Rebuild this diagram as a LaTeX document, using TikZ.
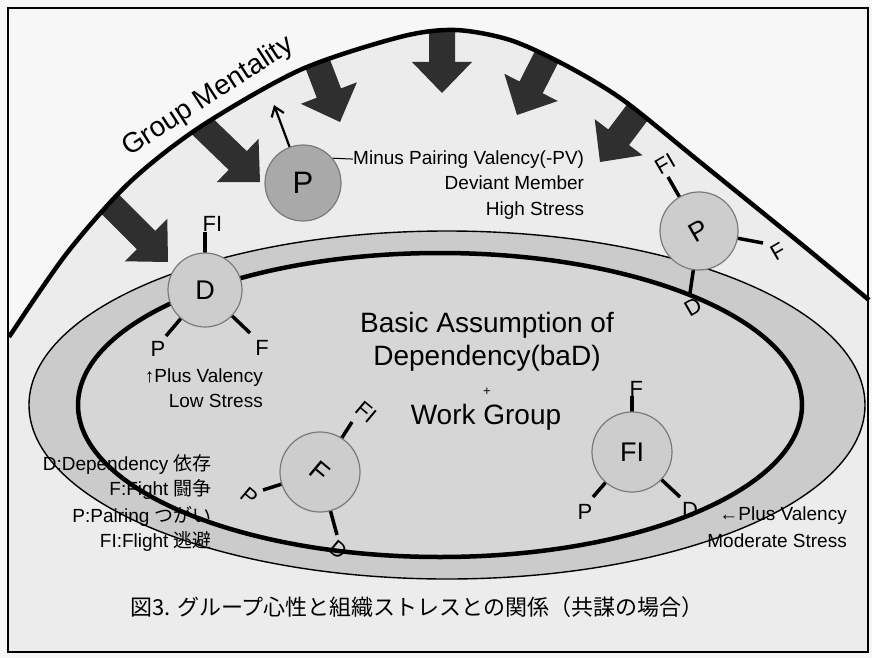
\documentclass[tikz,border=0pt]{standalone}
\usepackage{fontspec}
\setmainfont{Liberation Sans}
\newfontfamily\cjk{Noto Sans CJK JP}
\usetikzlibrary{arrows.meta}
\definecolor{paper}{HTML}{F7F7F7}
\definecolor{inside}{HTML}{ECECEC}
\definecolor{band}{HTML}{CBCBCB}
\definecolor{core}{HTML}{D6D6D6}
\definecolor{darkarrow}{HTML}{2F2F2F}
\definecolor{ballA}{HTML}{A9A9A9}
\definecolor{ballB}{HTML}{CDCDCD}
\definecolor{rim}{HTML}{7A7A7A}
\newcommand{\fsz}[1]{\fontsize{#1}{#1}\selectfont}
\tikzset{
  blockarrow/.pic={\fill[darkarrow] (-95,13) -- (-31,13) -- (-31,30) -- (0,0) -- (-31,-30) -- (-31,-13) -- (-95,-13) -- cycle;},
  ball/.style={circle, draw=rim, line width=1.2pt, fill=ballB, minimum size=78pt, inner sep=0pt, font=\fsz{27}},
  stem/.style={line width=3.5pt},
  atom/.style={inner sep=0pt, font=\fsz{22}},
  lbl/.style={inner sep=0pt, font=\fsz{19}},
  big/.style={inner sep=0pt, font=\fsz{28}},
}
\begin{document}
\begin{tikzpicture}[x=1pt,y=1pt]
\useasboundingbox (0,0) rectangle (872,-658);
\fill[paper] (0,0) rectangle (872,-658);
% region under the group curve
\fill[inside] plot[smooth] coordinates {(9,-337) (67,-253) (130,-182) (200,-127) (300,-70) (400,-37) (455,-30) (510,-40) (565,-65) (623,-100) (700,-162) (800,-243) (869,-300)} -- (869,-652) -- (9,-652) -- cycle;
% ellipse fills
\fill[band] (447,-405) ellipse [x radius=418pt, y radius=174pt];
\fill[core] (440,-405) ellipse [x radius=362pt, y radius=152pt];
% pressure arrows
\begin{scope}
\clip plot[smooth] coordinates {(9,-337) (67,-253) (130,-182) (200,-127) (300,-70) (400,-37) (455,-30) (510,-40) (565,-65) (623,-100) (700,-162) (800,-243) (869,-300)} -- (869,-652) -- (9,-652) -- cycle;
\pic[rotate=-45] at (168,-262) {blockarrow};
\pic[rotate=-44] at (260,-182) {blockarrow};
\pic[rotate=-69] at (340,-122) {blockarrow};
\pic[rotate=-90] at (442,-93) {blockarrow};
\pic[rotate=-117] at (517,-115) {blockarrow};
\pic[rotate=-127] at (600,-162) {blockarrow};
\end{scope}
% texts lying under the ellipse lines
\node[lbl, anchor=base east] (lg1) at (212,-470) {D:Dependency {\cjk 依存}};
\node[lbl, anchor=base east] (lg2) at (212,-495) {F:Fight {\cjk 闘争}};
\node[lbl, anchor=base east] (lg3) at (212,-522) {P:Pairing {\cjk つがい}};
\node[lbl, anchor=base east] (lg4) at (212,-547) {FI:Flight {\cjk 逃避}};
\node[lbl, anchor=base east] (mv1) at (847,-520) {←Plus Valency};
\node[lbl, anchor=base east] (mv2) at (847,-547) {Moderate Stress};
% ellipse outlines
\draw[line width=1.4pt] (447,-405) ellipse [x radius=418pt, y radius=174pt];
\draw[line width=4.5pt] (440,-405) ellipse [x radius=362pt, y radius=152pt];
% group mentality curve
\draw[line width=4.5pt] plot[smooth] coordinates {(9,-337) (67,-253) (130,-182) (200,-127) (300,-70) (400,-37) (455,-30) (510,-40) (565,-65) (623,-100) (700,-162) (800,-243) (869,-300)};
\node[big, rotate=33] (gm) at (208,-97) {Group Mentality};
% centre text
\node[big, anchor=base] (c1) at (487,-332) {Basic Assumption of};
\node[big, anchor=base] (c2) at (487,-365) {Dependency(baD)};
\node[inner sep=0pt, font=\fsz{13}] (c3) at (487,-392) {+};
\node[big, anchor=base] (c4) at (486,-424) {Work Group};
% deviant P
\node[ball, fill=ballA, minimum size=76pt, font=\fsz{31}] (P1) at (303,-183) {P};
\coordinate (pvtip) at (274,-105);
\draw[line width=2.2pt, -{Straight Barb[length=9pt,width=13pt]}] (P1) -- (pvtip);
\node[lbl, anchor=base west] (mpv1) at (353,-164) {Minus Pairing Valency(-PV)};
\node[lbl, anchor=base east] (mpv2) at ([yshift=-25pt]mpv1.base east) {Deviant Member};
\node[lbl, anchor=base east] (mpv3) at ([yshift=-51pt]mpv1.base east) {High Stress};
\draw[line width=1pt] (P1.40) -- (mpv1.west);
% D molecule
\coordinate (Dfi) at (205,-232);
\coordinate (Dp) at (166,-336);
\coordinate (Df) at (250,-333);
\draw[stem] (205,-290) -- (Dfi);
\draw[stem] (205,-290) -- (Dp);
\draw[stem] (205,-290) -- (Df);
\node[ball, minimum size=74pt] (D) at (205,-290) {D};
\node[atom, anchor=base west] (Dfil) at (202.5,-231) {FI};
\node[atom] (Dpl) at (158,-349) {P};
\node[atom] (Dfl) at (262,-348) {F};
\node[lbl, anchor=base east] (pv1) at (263,-382) {↑Plus Valency};
\node[lbl, anchor=base east] (pv2) at (263,-407) {Low Stress};
% right P molecule
\coordinate (P2fi) at (668,-177);
\coordinate (P2f) at (763,-243);
\coordinate (P2d) at (690,-293);
\draw[stem] (699,-231) -- (P2fi);
\draw[stem] (699,-231) -- (P2f);
\draw[stem] (699,-231) -- (P2d);
\node[ball, rotate=30] (P2) at (699,-231) {P};
\node[atom, rotate=30] (P2fil) at (665,-164) {FI};
\node[atom, rotate=30] (P2fl) at (778,-252) {F};
\node[atom, rotate=30] (P2dl) at (693,-307) {D};
% F molecule
\coordinate (Ffi) at (352,-422);
\coordinate (Fp) at (263,-490);
\coordinate (Fd) at (337,-535);
\draw[stem] (320,-472) -- (Ffi);
\draw[stem] (320,-472) -- (Fp);
\draw[stem] (320,-472) -- (Fd);
\node[ball, minimum size=80pt, rotate=-40] (F) at (320,-472) {F};
\node[atom, rotate=-40] (Ffil) at (366,-412) {FI};
\node[atom, rotate=-40] (Fpl) at (249,-496) {P};
\node[atom, rotate=-40] (Fdl) at (338,-550) {D};
% FI molecule
\coordinate (FIf) at (632,-396);
\coordinate (FIp) at (593,-497);
\coordinate (FId) at (680,-497);
\draw[stem] (632,-452) -- (FIf);
\draw[stem] (632,-452) -- (FIp);
\draw[stem] (632,-452) -- (FId);
\node[ball, minimum size=80pt] (FI) at (632,-452) {FI};
\node[atom, anchor=base west] (FIfl) at (629.5,-396) {F};
\node[atom] (FIpl) at (585,-512) {P};
\node[atom] (FIdl) at (690,-510) {D};
% caption
\node[inner sep=0pt, anchor=base west, font=\cjk\fsz{22}] (cap) at (130,-615) {図3. グループ心性と組織ストレスとの関係（共謀の場合）};
% frame
\draw[line width=2.5pt] (8,-8) rectangle (868,-652);
\end{tikzpicture}
\end{document}
